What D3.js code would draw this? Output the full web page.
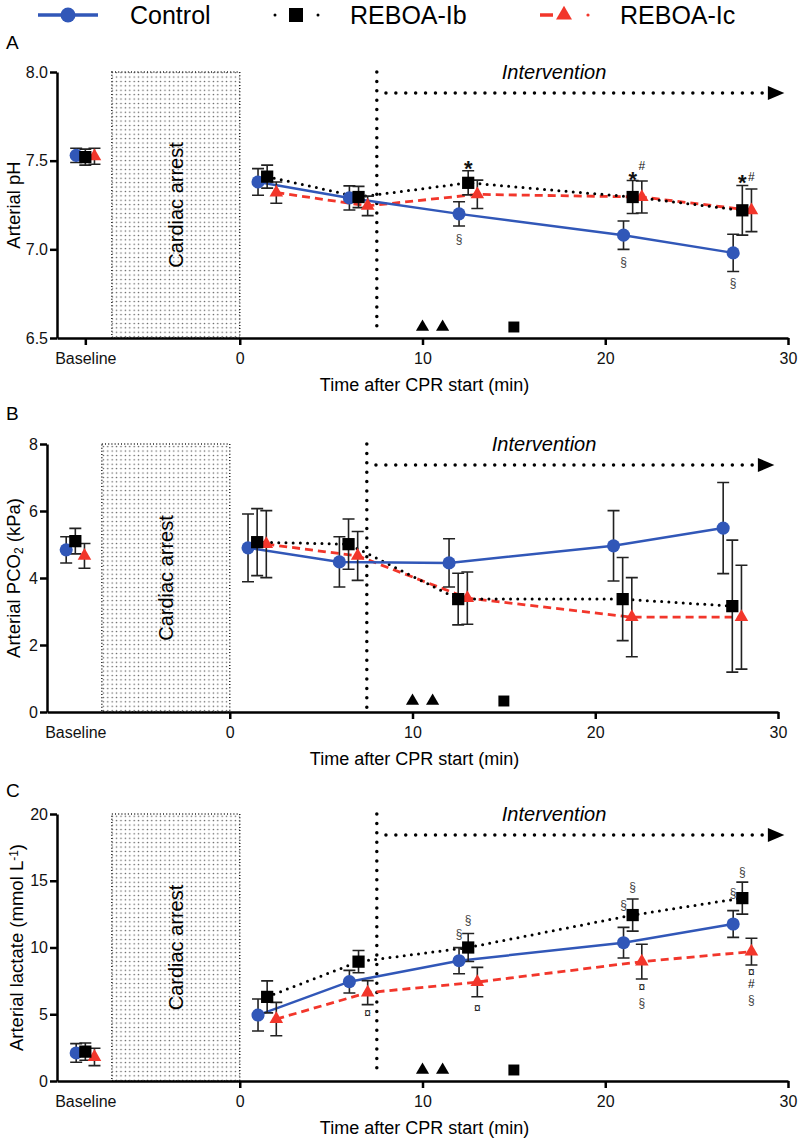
<!DOCTYPE html>
<html>
<head>
<meta charset="utf-8">
<script src="https://cdn.jsdelivr.net/npm/d3@7"></script>
<style>
  body { margin: 0; background: #fff; }
  svg { font-family: "Liberation Sans", Arial, sans-serif; }
</style>
</head>
<body>
<div id="chart"></div>
<script>
// Sampling times (min after CPR start); first entry is the baseline column
const controlTimes = [-8.95, 1, 6, 12, 21, 27];
const ibTimes = [-8.45, 1.5, 6.5, 12.5, 21.5, 27.5];
const icTimes = [-7.95, 2, 7, 13, 22, 28];
const baselineTime = -8.45;

// A: arterial pH (mean, SD)
const phControl = [7.53, 7.38, 7.29, 7.20, 7.08, 6.98];
const phControlSd = [0.04, 0.075, 0.068, 0.068, 0.08, 0.105];
const phIb = [7.52, 7.41, 7.295, 7.375, 7.295, 7.22];
const phIbSd = [0.045, 0.065, 0.06, 0.068, 0.093, 0.14];
const phIc = [7.525, 7.32, 7.245, 7.31, 7.295, 7.22];
const phIcSd = [0.045, 0.06, 0.055, 0.08, 0.09, 0.12];

// B: arterial PCO2 (kPa)
const pco2Control = [4.84, 4.90, 4.48, 4.45, 4.96, 5.49];
const pco2ControlSd = [0.39, 1.01, 0.75, 0.72, 1.05, 1.36];
const pco2Ib = [5.10, 5.07, 5.01, 3.37, 3.37, 3.16];
const pco2IbSd = [0.38, 1.0, 0.75, 0.77, 1.24, 1.97];
const pco2Ic = [4.66, 5.01, 4.66, 3.40, 2.83, 2.83];
const pco2IcSd = [0.37, 1.0, 0.73, 0.78, 1.18, 1.55];

// C: arterial lactate (mmol/L)
const lacControl = [2.1, 4.94, 7.44, 9.01, 10.36, 11.76];
const lacControlSd = [0.7, 1.2, 0.85, 0.98, 1.15, 1.0];
const lacIb = [2.2, 6.3, 8.94, 10.0, 12.43, 13.7];
const lacIbSd = [0.65, 1.2, 0.83, 1.05, 1.2, 1.2];
const lacIc = [1.8, 4.64, 6.62, 7.41, 8.94, 9.69];
const lacIcSd = [0.65, 1.25, 0.9, 1.1, 1.3, 1.0];

// events marked on the time axis
const triangleEvents = [10, 11.1];
const squareEvents = [15];

// significance marks: [time, value, symbol]
const phMarks = [
  [12.5, 7.50, "*"], [21.5, 7.44, "*"], [22, 7.47, "#"], [27.5, 7.42, "*"], [28, 7.41, "#"],
  [12, 7.06, "§"], [21, 6.93, "§"], [27, 6.81, "§"]
];
const pco2Marks = [];
const lacMarks = [
  [12, 11.0, "§"], [12.5, 12.06, "§"], [7, 5.09, "¤"], [13, 5.47, "¤"],
  [21, 13.18, "§"], [21.5, 14.53, "§"], [22, 7.04, "¤"], [22, 5.84, "§"],
  [27, 14.08, "§"], [27.5, 15.66, "§"], [28, 8.2, "¤"], [28, 7.25, "#"], [28, 6.1, "§"]
];

const blue = "#3157b8", red = "#f2362b";

const svg = d3.select("#chart").append("svg")
    .attr("width", 800)
    .attr("height", 1143);

const defs = svg.append("defs");
const pat = defs.append("pattern")
    .attr("id", "stipple")
    .attr("patternUnits", "userSpaceOnUse")
    .attr("width", 4.4).attr("height", 4.4);
pat.append("circle").attr("cx", 2.2).attr("cy", 2.2).attr("r", 0.75).attr("fill", "#555");

// Legend
const legend = svg.append("g").attr("class", "legend");
const legY = 15;
legend.append("line").attr("x1", 38).attr("x2", 98).attr("y1", legY).attr("y2", legY)
    .attr("stroke", blue).attr("stroke-width", 3.5);
legend.append("circle").attr("cx", 68).attr("cy", legY).attr("r", 7.5).attr("fill", blue);
legend.append("line").attr("x1", 275).attr("x2", 320).attr("y1", legY).attr("y2", legY)
    .attr("stroke", "#000").attr("stroke-width", 3).attr("stroke-dasharray", "0,43")
    .attr("stroke-linecap", "round");
legend.append("rect").attr("x", 289).attr("y", legY - 7).attr("width", 14).attr("height", 14);
legend.append("line").attr("x1", 540).attr("x2", 553).attr("y1", legY).attr("y2", legY)
    .attr("stroke", red).attr("stroke-width", 3.5);
legend.append("path").attr("transform", `translate(564,${legY})`)
    .attr("d", d3.symbol(d3.symbolTriangle, 110)()).attr("fill", red);
legend.append("circle").attr("cx", 588).attr("cy", legY).attr("r", 1.6).attr("fill", red);
[["Control", 130], ["REBOA-Ib", 350], ["REBOA-Ic", 620]].forEach(([t, x]) => {
  legend.append("text")
      .attr("x", x).attr("y", legY + 9)
      .style("font-size", "25px")
      .text(t);
});

const panels = [
  { letter: "A", letterY: 42, top: 72, bottom: 338, left: 57, right: 788, titleX: 14,
    yDomain: [6.5, 8], yTicks: [6.5, 7.0, 7.5, 8.0], fmt: d3.format(".1f"),
    title: ["Arterial pH"], baselineTick: true,
    series: [[phControl, phControlSd], [phIb, phIbSd], [phIc, phIcSd]], marks: phMarks },
  { letter: "B", letterY: 413, top: 444, bottom: 712, left: 47, right: 778, titleX: 14,
    yDomain: [0, 8], yTicks: [0, 2, 4, 6, 8], fmt: d3.format("d"),
    title: ["Arterial PCO", "2", " (kPa)"], baselineTick: false,
    series: [[pco2Control, pco2ControlSd], [pco2Ib, pco2IbSd], [pco2Ic, pco2IcSd]], marks: pco2Marks },
  { letter: "C", letterY: 790, top: 814, bottom: 1081, left: 57, right: 788, titleX: 17,
    yDomain: [0, 20], yTicks: [0, 5, 10, 15, 20], fmt: d3.format("d"),
    title: ["Arterial lactate (mmol L", "-1", ")"], baselineTick: false,
    series: [[lacControl, lacControlSd], [lacIb, lacIbSd], [lacIc, lacIcSd]], marks: lacMarks }
];

const seriesTimes = [controlTimes, ibTimes, icTimes];

panels.forEach(p => {
  const x = d3.scaleLinear().domain([-10, 30]).range([p.left, p.right]);
  const y = d3.scaleLinear().domain(p.yDomain).range([p.bottom, p.top]);
  const g = svg.append("g");

  g.append("text").attr("x", 6).attr("y", p.letterY + 7).style("font-size", "19px").text(p.letter);

  // cardiac arrest block
  g.append("rect")
      .attr("x", x(-7)).attr("y", y(p.yDomain[1]))
      .attr("width", x(0) - x(-7)).attr("height", y(p.yDomain[0]) - y(p.yDomain[1]))
      .attr("fill", "url(#stipple)")
      .attr("stroke", "#222").attr("stroke-width", 1.5).attr("stroke-dasharray", "1,2.2");
  g.append("text")
      .attr("transform", `translate(${(x(-7) + x(0)) / 2 + 7},${(p.top + p.bottom) / 2}) rotate(-90)`)
      .attr("text-anchor", "middle")
      .style("font-size", "20px")
      .text("Cardiac arrest");

  // intervention marker
  g.append("line")
      .attr("x1", x(7.5)).attr("x2", x(7.5))
      .attr("y1", p.top).attr("y2", p.bottom - 4)
      .attr("stroke", "#000").attr("stroke-width", 3.5)
      .attr("stroke-dasharray", "0,9.4").attr("stroke-linecap", "round");
  const ay = p.top + 21;
  g.append("line")
      .attr("x1", x(8)).attr("x2", x(28.8))
      .attr("y1", ay).attr("y2", ay)
      .attr("stroke", "#000").attr("stroke-width", 3.5)
      .attr("stroke-dasharray", "0,9.9").attr("stroke-linecap", "round");
  g.append("path")
      .attr("d", `M${x(28.9)},${ay - 7}L${x(29.8)},${ay}L${x(28.9)},${ay + 7}Z`)
      .attr("fill", "#000");
  g.append("text")
      .attr("x", x(17.2)).attr("y", p.top + 7)
      .attr("text-anchor", "middle")
      .style("font-size", "20px").style("font-style", "italic")
      .text("Intervention");

  // axes
  const yAxis = g.append("g")
      .attr("transform", `translate(${p.left},0)`)
      .call(d3.axisLeft(y).tickValues(p.yTicks).tickFormat(p.fmt).tickSize(7).tickSizeOuter(0).tickPadding(2));
  const xAxis = g.append("g")
      .attr("transform", `translate(0,${p.bottom})`)
      .call(d3.axisBottom(x).tickValues([baselineTime, 0, 10, 20, 30])
        .tickFormat(d => d < 0 ? "Baseline" : d).tickSize(7).tickSizeOuter(0).tickPadding(8));
  [yAxis, xAxis].forEach(a => {
    a.select(".domain").attr("stroke-width", 2.5);
    a.selectAll(".tick line").attr("stroke-width", 2.5);
    a.selectAll(".tick text").style("font-size", "16px").attr("fill", "#111");
    a.attr("font-family", null);
  });
  if (!p.baselineTick) {
    xAxis.selectAll(".tick").filter(d => d < 0).select("line").remove();
  }

  g.append("text")
      .attr("x", (p.left + p.right) / 2 + 2).attr("y", p.bottom + 53)
      .attr("text-anchor", "middle")
      .style("font-size", "18px")
      .text("Time after CPR start (min)");

  const yt = g.append("text")
      .attr("transform", `translate(${p.titleX + 6},${(p.top + p.bottom) / 2}) rotate(-90)`)
      .attr("text-anchor", "middle")
      .style("font-size", "18.5px");
  yt.append("tspan").text(p.title[0]);
  if (p.title.length > 1) {
    const sub = p.title[1] === "2";
    yt.append("tspan").attr("baseline-shift", sub ? "-25%" : "40%")
      .style("font-size", "12px").text(p.title[1]);
    yt.append("tspan").text(p.title[2]);
  }

  // series lines (baseline not connected)
  const line = d3.line().x(d => x(d[0])).y(d => y(d[1]));
  const pts = p.series.map((s, i) => seriesTimes[i].map((t, j) => [t, s[0][j], s[1][j]]));
  const styles = [
    { stroke: blue, width: 2.5, dash: null, cap: "butt" },
    { stroke: "#000", width: 3, dash: "0,7.2", cap: "round" },
    { stroke: red, width: 2.8, dash: "8,5", cap: "butt" }
  ];
  [2, 1, 0].forEach(i => {
    g.append("path")
        .datum(pts[i].slice(1))
        .attr("fill", "none")
        .attr("stroke", styles[i].stroke)
        .attr("stroke-width", styles[i].width)
        .attr("stroke-dasharray", styles[i].dash)
        .attr("stroke-linecap", styles[i].cap)
        .attr("d", line);
  });

  // error bars
  pts.forEach(ser => {
    const eb = g.append("g").attr("stroke", "#222").attr("stroke-width", 1.6).attr("fill", "none");
    ser.forEach(d => {
      const cx = x(d[0]);
      eb.append("path").attr("d",
        `M${cx},${y(d[1] - d[2])}V${y(d[1] + d[2])}` +
        `M${cx - 6},${y(d[1] + d[2])}H${cx + 6}` +
        `M${cx - 6},${y(d[1] - d[2])}H${cx + 6}`);
    });
  });

  // markers
  const symbols = [
    { type: d3.symbolCircle, size: 135, fill: blue },
    { type: d3.symbolSquare, size: 150, fill: "#000" },
    { type: d3.symbolTriangle, size: 80, fill: red }
  ];
  [2, 0, 1].forEach(i => {
    g.selectAll(null).data(pts[i]).join("path")
        .attr("transform", d => `translate(${x(d[0])},${y(d[1])})`)
        .attr("d", d3.symbol(symbols[i].type, symbols[i].size)())
        .attr("fill", symbols[i].fill);
  });

  // events along the time axis
  g.selectAll(null).data(triangleEvents).join("path")
      .attr("transform", d => `translate(${x(d)},${p.bottom - 11})`)
      .attr("d", d3.symbol(d3.symbolTriangle, 75)());
  g.selectAll(null).data(squareEvents).join("path")
      .attr("transform", d => `translate(${x(d)},${p.bottom - 11})`)
      .attr("d", d3.symbol(d3.symbolSquare, 120)());

  // significance marks
  g.selectAll(null).data(p.marks).join("text")
      .attr("x", d => x(d[0]))
      .attr("y", d => y(d[1]))
      .attr("dy", d => d[2] === "*" ? "0.7em" : "0.35em")
      .attr("text-anchor", "middle")
      .style("font-size", d => d[2] === "*" ? "22px" : "12px")
      .style("font-weight", d => d[2] === "*" ? "bold" : "normal")
      .attr("fill", d => d[2] === "§" ? "#444" : "#111")
      .text(d => d[2]);
});
</script>
</body>
</html>
